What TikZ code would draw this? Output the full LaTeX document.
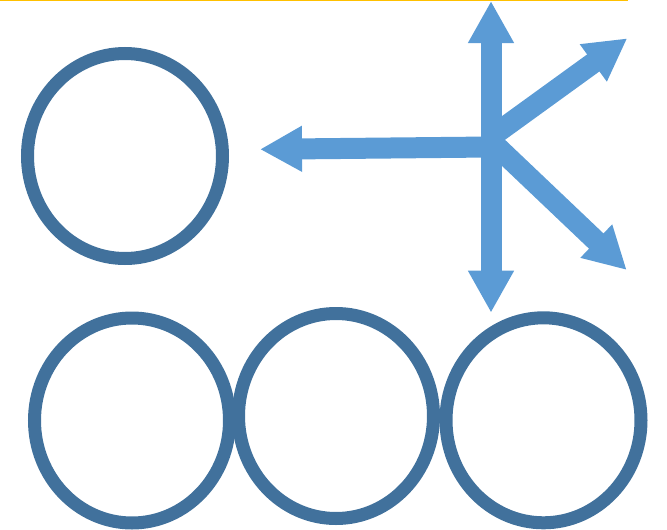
\documentclass[tikz,border=0pt]{standalone}
\usetikzlibrary{arrows.meta,shapes.geometric}
\definecolor{ringblue}{HTML}{41719C}
\definecolor{arrowblue}{HTML}{5B9BD5}
\definecolor{topyellow}{HTML}{FFC000}
\tikzset{
  ring/.style={ellipse, draw=ringblue, line width=13pt, inner sep=0pt,
    minimum width=195pt, minimum height=205pt},
  fatarrow/.style={draw=arrowblue, line width=21pt,
    -{Triangle[length=42pt,width=43pt,fill=arrowblue]}},
  fatdouble/.style={draw=arrowblue, line width=21pt,
    {Triangle[length=42pt,width=43pt,fill=arrowblue]}-{Triangle[length=42pt,width=43pt,fill=arrowblue]}},
  rule/.style={draw=topyellow, line width=1.3pt}
}
\begin{document}
\begin{tikzpicture}[x=1pt,y=-1pt]
\useasboundingbox (0,0) rectangle (667,530);
% top rule
\coordinate (ruleL) at (0,0.65);
\coordinate (ruleR) at (628,0.65);
\draw[rule] (ruleL) -- (ruleR);
% rings
\node[ring] (c0) at (125,156) {};
\node[ring] (c1) at (132,420.5) {};
\node[ring] (c2) at (336,416) {};
\node[ring] (c3) at (543.5,420.3) {};
% arrows
\coordinate (vtop) at (491,1);
\coordinate (vbot) at (491,312.7);
\coordinate (hs) at (491,147);
\coordinate (ht) at (260,149.3);
\coordinate (us) at (491,137);
\coordinate (ut) at (627.3,38.3);
\coordinate (ls) at (491,141);
\coordinate (lt) at (626.7,270);
\draw[fatarrow] (hs) -- (ht);
\draw[fatarrow] (us) -- (ut);
\draw[fatarrow] (ls) -- (lt);
\draw[fatdouble] (vtop) -- (vbot);
\end{tikzpicture}
\end{document}
